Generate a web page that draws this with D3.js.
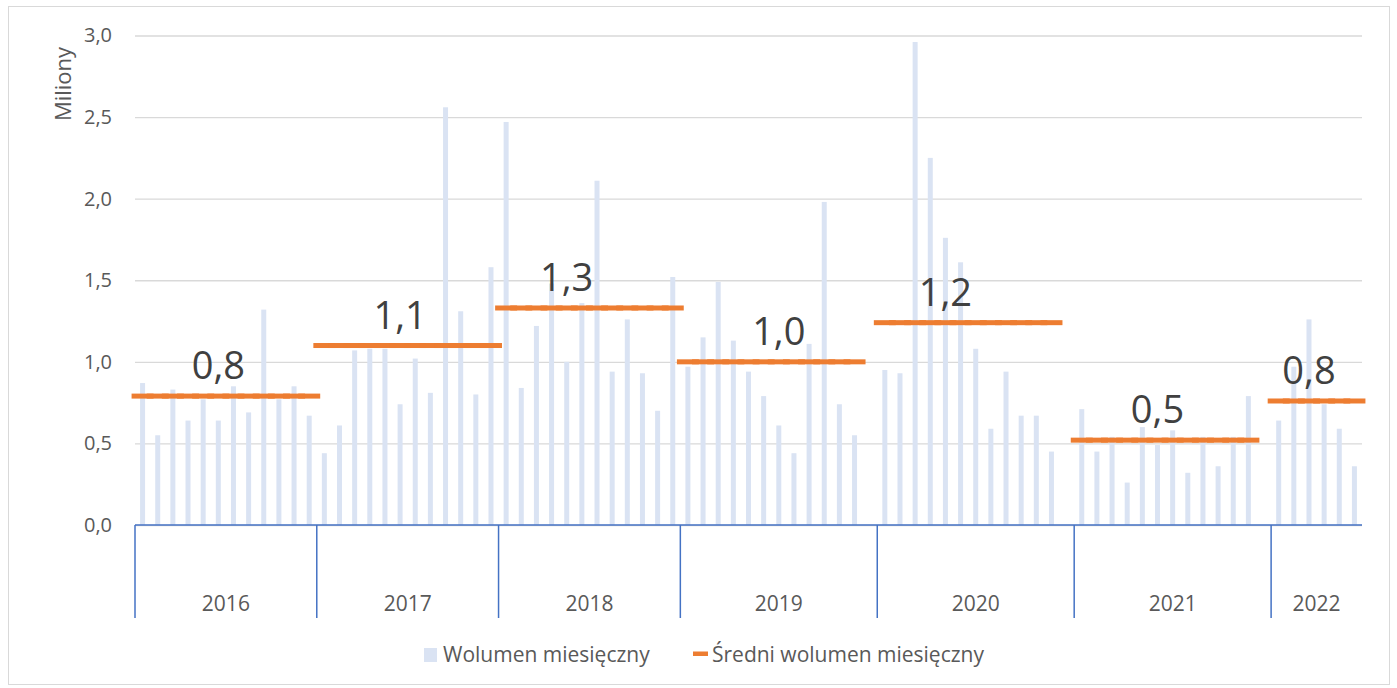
<!DOCTYPE html>
<html>
<head>
<meta charset="utf-8">
<script src="https://cdn.jsdelivr.net/npm/d3@7"></script>
<style>
  body { margin: 0; background: #fff; }
  #visualization { width: 1397px; height: 688px; }
  text { font-family: "Open Sans", "Noto Sans", sans-serif; }
</style>
</head>
<body>
<div id="visualization"></div>
<script>
const years = ['2016', '2017', '2018', '2019', '2020', '2021', '2022'];

// monthly volume, millions (null = empty slot on the axis)
const volume2016 = [0.87, 0.55, 0.83, 0.64, 0.77, 0.64, 0.85, 0.69, 1.32, 0.77, 0.85, 0.67];
const volume2017 = [0.44, 0.61, 1.07, 1.08, 1.08, 0.74, 1.02, 0.81, 2.56, 1.31, 0.80, 1.58];
const volume2018 = [2.47, 0.84, 1.22, 1.48, 1.00, 1.36, 2.11, 0.94, 1.26, 0.93, 0.70, 1.52];
const volume2019 = [0.97, 1.15, 1.49, 1.13, 0.94, 0.79, 0.61, 0.44, 1.11, 1.98, 0.74, 0.55, null];
const volume2020 = [0.95, 0.93, 2.96, 2.25, 1.76, 1.61, 1.08, 0.59, 0.94, 0.67, 0.67, 0.45, null];
const volume2021 = [0.71, 0.45, 0.54, 0.26, 0.60, 0.49, 0.58, 0.32, 0.54, 0.36, 0.54, 0.79, null];
const volume2022 = [0.64, 0.97, 1.26, 0.74, 0.59, 0.36];

const yearAverage = [0.79, 1.10, 1.33, 1.00, 1.24, 0.52, 0.76];
// month that carries the average label
const labelMonth = [5, 5, 4, 6, 4, 5, 2];

const yTicks = [0, 0.5, 1.0, 1.5, 2.0, 2.5, 3.0];

const seriesNames = ['Wolumen miesięczny', 'Średni wolumen miesięczny'];

const chart = {
  blue: '#DAE3F3',
  orange: '#ED7D31',
  axisBlue: '#4472C4',
  grid: '#D9D9D9',
  text: '#595959',

  init() {
    const volumes = [volume2016, volume2017, volume2018, volume2019, volume2020, volume2021, volume2022];

    this.slots = [];
    this.groups = [];
    years.forEach((year, i) => {
      const start = this.slots.length;
      volumes[i].forEach((v, m) => {
        this.slots.push({ id: `${year}-${m}`, year, month: m, value: v, avg: v === null ? null : yearAverage[i] });
      });
      this.groups.push({ year, start, end: this.slots.length, avg: yearAverage[i], label: labelMonth[i] });
    });

    this.svg = d3.select('#visualization').append('svg')
      .attr('width', 1397)
      .attr('height', 688);

    this.left = 135;
    this.right = 1362;
    this.bottom = 525;

    this.x = d3.scaleBand()
      .domain(this.slots.map((d) => d.id))
      .range([this.left, this.right])
      .paddingInner(0.67)
      .paddingOuter(0.335);
    this.slotX = d3.scaleLinear().domain([0, this.slots.length]).range([this.left, this.right]);
    this.y = d3.scaleLinear().domain([0, 3]).range([this.bottom, 35.5]);

    this.drawFrame();
    this.drawGrid();
    this.drawBars();
    this.drawAverages();
    this.drawCategoryAxis();
    this.drawLegend();
  },

  drawFrame() {
    this.svg.append('rect')
      .attr('x', 8.5).attr('y', 6.5)
      .attr('width', 1381).attr('height', 678)
      .attr('fill', '#fff')
      .attr('stroke', this.grid);

    this.svg.append('text')
      .attr('transform', 'translate(71,84) rotate(-90)')
      .attr('text-anchor', 'middle')
      .attr('font-size', 22)
      .attr('fill', this.text)
      .text('Miliony');
  },

  drawGrid() {
    const axis = d3.axisLeft(this.y)
      .tickValues(yTicks)
      .tickSize(-(this.right - this.left))
      .tickPadding(23)
      .tickFormat((d) => d.toFixed(1).replace('.', ','));

    const g = this.svg.append('g')
      .attr('transform', `translate(${this.left},0)`)
      .call(axis);
    g.select('.domain').remove();
    g.selectAll('line').attr('stroke', this.grid).attr('stroke-width', 1.3);
    g.selectAll('text')
      .attr('font-size', 20)
      .attr('fill', this.text)
      .style('font-family', '"Open Sans", sans-serif');
  },

  drawBars() {
    this.svg.append('g')
      .selectAll('rect')
      .data(this.slots.filter((d) => d.value !== null))
      .join('rect')
      .attr('x', (d) => this.x(d.id))
      .attr('y', (d) => this.y(d.value))
      .attr('width', this.x.bandwidth())
      .attr('height', (d) => this.bottom - this.y(d.value))
      .attr('fill', this.blue);
  },

  drawAverages() {
    const dash = 22;
    this.svg.append('g')
      .selectAll('rect')
      .data(this.slots.filter((d) => d.avg !== null))
      .join('rect')
      .attr('x', (d) => this.x(d.id) + this.x.bandwidth() / 2 - dash / 2)
      .attr('y', (d) => this.y(d.avg) - 2.5)
      .attr('width', dash)
      .attr('height', 5)
      .attr('fill', this.orange);

    this.svg.append('g')
      .selectAll('text')
      .data(this.groups)
      .join('text')
      .attr('x', (d) => this.x(this.slots[d.start + d.label].id) + this.x.bandwidth() / 2)
      .attr('y', (d) => this.y(d.avg) - 17)
      .attr('text-anchor', 'middle')
      .attr('font-size', 38)
      .attr('fill', '#404040')
      .text((d) => d.avg.toFixed(1).replace('.', ','));
  },

  drawCategoryAxis() {
    const g = this.svg.append('g');

    g.append('line')
      .attr('x1', this.left).attr('x2', this.right)
      .attr('y1', this.bottom).attr('y2', this.bottom)
      .attr('stroke', this.axisBlue)
      .attr('stroke-width', 1.5);

    g.selectAll('.divider')
      .data(this.groups)
      .join('line')
      .attr('class', 'divider')
      .attr('x1', (d) => this.slotX(d.start))
      .attr('x2', (d) => this.slotX(d.start))
      .attr('y1', this.bottom)
      .attr('y2', 618)
      .attr('stroke', this.axisBlue)
      .attr('stroke-width', 1.5);

    g.selectAll('.year')
      .data(this.groups)
      .join('text')
      .attr('class', 'year')
      .attr('x', (d) => (this.slotX(d.start) + this.slotX(d.end)) / 2)
      .attr('y', 611)
      .attr('text-anchor', 'middle')
      .attr('font-size', 21)
      .attr('fill', this.text)
      .text((d) => d.year);
  },

  drawLegend() {
    const g = this.svg.append('g');

    g.append('rect')
      .attr('x', 424).attr('y', 648)
      .attr('width', 13).attr('height', 14)
      .attr('fill', this.blue);
    g.append('text')
      .attr('x', 443).attr('y', 662)
      .attr('font-size', 21)
      .attr('fill', this.text)
      .text(seriesNames[0]);

    g.append('rect')
      .attr('x', 693).attr('y', 651.5)
      .attr('width', 15).attr('height', 4.5)
      .attr('fill', this.orange);
    g.append('text')
      .attr('x', 712).attr('y', 662)
      .attr('font-size', 21)
      .attr('fill', this.text)
      .text(seriesNames[1]);
  }
};

chart.init();
</script>
</body>
</html>
